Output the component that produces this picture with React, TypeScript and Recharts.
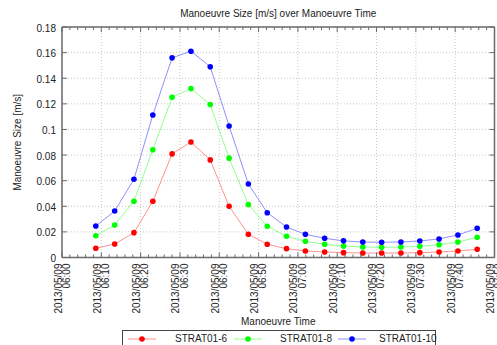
import React from 'react';
import { LineChart, Line, XAxis, YAxis, CartesianGrid, Legend } from 'recharts';

// sample times, minutes after 2013/05/09 06:00
const times = [8.6, 13.4, 18.3, 23.1, 28.0, 32.8, 37.7, 42.5, 47.4, 52.2, 57.1, 61.9, 66.8, 71.6, 76.5, 81.3, 86.2, 91.0, 95.9, 100.7, 105.6];

const strat6 = [0.0072, 0.0105, 0.0194, 0.0439, 0.0809, 0.0902, 0.0762, 0.0400, 0.0181, 0.0103, 0.0069, 0.0051, 0.0043, 0.0038, 0.0035, 0.0035, 0.0035, 0.0038, 0.0043, 0.0051, 0.0064];
const strat8 = [0.0170, 0.0254, 0.0439, 0.0842, 0.1251, 0.1319, 0.1194, 0.0776, 0.0413, 0.0244, 0.0166, 0.0127, 0.0103, 0.0089, 0.0082, 0.0080, 0.0082, 0.0087, 0.0100, 0.0121, 0.0158];
const strat10 = [0.0246, 0.0363, 0.0611, 0.1113, 0.1559, 0.1611, 0.1490, 0.1027, 0.0574, 0.0350, 0.0238, 0.0181, 0.0150, 0.0130, 0.0121, 0.0119, 0.0121, 0.0129, 0.0145, 0.0176, 0.0228];

const seriesNames = ['STRAT01-6', 'STRAT01-8', 'STRAT01-10'];
const seriesKeys = ['s6', 's8', 's10'];
const dotColors = ['#ff0000', '#00ff00', '#0000ff'];
const lineColors = ['#ff9090', '#90ff90', '#9090ff'];

const dateLabel = '2013/05/09';
const majorTicks = [0, 10, 20, 30, 40, 50, 60, 70, 80, 90, 100, 110];
const timeLabels = ['06:00', '06:10', '06:20', '06:30', '06:40', '06:50', '07:00', '07:10', '07:20', '07:30', '07:40', '07:50'];
const minorTicks = Array.from({ length: 56 }, (_, i) => i * 2);

const yTicks = [0, 0.02, 0.04, 0.06, 0.08, 0.1, 0.12, 0.14, 0.16, 0.18];
const yLabels = ['0', '0.02', '0.04', '0.06', '0.08', '0.1', '0.12', '0.14', '0.16', '0.18'];

const data = times.map((t, i) => ({ t, s6: strat6[i], s8: strat8[i], s10: strat10[i] }));

const FONT = '"Liberation Sans", Arial, sans-serif';
const INK = '#222';
const FRAME = '#6a6a6a';

const isMajor = (v: number) => v % 10 === 0;

const BottomTick = (props: any) => {
  const { x, y, payload } = props;
  const v = payload.value;
  const major = isMajor(v);
  return (
    <g>
      <line x1={x} y1={y} x2={x} y2={y - (major ? 5 : 3)} stroke={FRAME} />
      {major && (
        <text transform={`translate(${x}, ${y + 6}) rotate(-90)`} textAnchor="end" fontSize={10} fontFamily={FONT} fill={INK}>
          <tspan x={0} y={-0.5}>{dateLabel}</tspan>
          <tspan x={0} y={7.8}>{timeLabels[v / 10]}</tspan>
        </text>
      )}
    </g>
  );
};

const TopTick = (props: any) => {
  const { x, y, payload } = props;
  return <line x1={x} y1={y} x2={x} y2={y + (isMajor(payload.value) ? 5 : 3)} stroke={FRAME} />;
};

const LeftTick = (props: any) => {
  const { x, y, index } = props;
  return (
    <g>
      <line x1={x} y1={y} x2={x + 5} y2={y} stroke={FRAME} />
      <text x={x - 6} y={y + 4.5} textAnchor="end" fontSize={10} fontFamily={FONT} fill={INK}>{yLabels[index]}</text>
    </g>
  );
};

const RightTick = (props: any) => {
  const { x, y } = props;
  return <line x1={x} y1={y} x2={x - 5} y2={y} stroke={FRAME} />;
};

const gridX = ({ xAxis }: any) => {
  const s = xAxis.scale;
  return majorTicks.map((v) => (typeof s === 'function' ? s(v) : s.map(v)));
};

const legendLineX = [5, 111, 215];
const legendTextX = [52, 157, 256];

const LegendBox = () => (
  <div style={{ position: 'relative', width: 314, height: 19, border: '1px solid #444', boxSizing: 'border-box', background: '#fff', fontFamily: FONT, fontSize: 10, color: INK }}>
    {seriesNames.map((name, i) => (
      <React.Fragment key={name}>
        <svg style={{ position: 'absolute', left: legendLineX[i], top: 3 }} width={30} height={10}>
          <line x1={0} y1={5} x2={28} y2={5} stroke={lineColors[i]} />
          <circle cx={14} cy={5} r={2.8} fill={dotColors[i]} />
        </svg>
        <span style={{ position: 'absolute', left: legendTextX[i], top: 2, lineHeight: '12px', whiteSpace: 'nowrap' }}>{name}</span>
      </React.Fragment>
    ))}
  </div>
);

export default function App() {
  return (
    <div style={{ position: 'absolute', left: 0, top: 0, background: '#fff' }}>
      <LineChart width={497} height={345} data={data} margin={{ top: 26, right: 1.5, bottom: 86.5, left: 0 }}>
        <CartesianGrid xAxisId="main" yAxisId="left" stroke="#c8c8c8" strokeDasharray="1 2" verticalCoordinatesGenerator={gridX} />
        <XAxis
          xAxisId="main"
          type="number"
          dataKey="t"
          domain={[0, 110]}
          ticks={minorTicks}
          interval={0}
          height={1}
          tickSize={0}
          tickMargin={0}
          tick={<BottomTick />}
          stroke={FRAME}
          axisLine={{ stroke: FRAME, strokeWidth: 1.5 }}
          allowDataOverflow
          label={(p: any) => {
            const vb = p.viewBox;
            return (
              <text x={vb.x + vb.width / 2} y={vb.y + 67.5} textAnchor="middle" fontSize={10} fontFamily={FONT} fill={INK}>Manoeuvre Time</text>
            );
          }}
        />
        <XAxis
          xAxisId="top"
          orientation="top"
          type="number"
          dataKey="t"
          domain={[0, 110]}
          ticks={minorTicks}
          interval={0}
          height={1}
          tickSize={0}
          tickMargin={0}
          tick={<TopTick />}
          stroke={FRAME}
          axisLine={{ stroke: FRAME, strokeWidth: 1.5 }}
          allowDataOverflow
          label={(p: any) => {
            const vb = p.viewBox;
            return (
              <text x={vb.x + vb.width / 2} y={vb.y + vb.height - 10.5} textAnchor="middle" fontSize={10} fontFamily={FONT} fill={INK}>Manoeuvre Size [m/s] over Manoeuvre Time</text>
            );
          }}
        />
        <YAxis
          yAxisId="left"
          type="number"
          domain={[0, 0.18]}
          ticks={yTicks}
          interval={0}
          width={62}
          tickSize={0}
          tickMargin={0}
          tick={<LeftTick />}
          stroke={FRAME}
          axisLine={{ stroke: FRAME, strokeWidth: 1.5 }}
          allowDataOverflow
          label={(p: any) => {
            const vb = p.viewBox;
            const cx = vb.x + 20.5;
            const cy = vb.y + vb.height / 2;
            return (
              <text x={cx} y={cy} transform={`rotate(-90, ${cx}, ${cy})`} textAnchor="middle" fontSize={10} fontFamily={FONT} fill={INK}>Manoeuvre Size [m/s]</text>
            );
          }}
        />
        <YAxis
          yAxisId="right"
          orientation="right"
          type="number"
          domain={[0, 0.18]}
          ticks={yTicks}
          interval={0}
          width={1}
          tickSize={0}
          tickMargin={0}
          tick={<RightTick />}
          stroke={FRAME}
          axisLine={{ stroke: FRAME, strokeWidth: 1.5 }}
          allowDataOverflow
        />
        {seriesKeys.map((k, i) => (
          <Line
            key={k}
            xAxisId="main"
            yAxisId="left"
            type="linear"
            dataKey={k}
            name={seriesNames[i]}
            stroke={lineColors[i]}
            strokeWidth={1}
            dot={{ r: 2.8, fill: dotColors[i], stroke: dotColors[i], strokeWidth: 0 }}
            activeDot={false}
            isAnimationActive={false}
          />
        ))}
        <Legend
          layout="horizontal"
          verticalAlign="middle"
          align="center"
          wrapperStyle={{ left: 122, top: 330, width: 314, height: 19 }}
          content={() => <LegendBox />}
        />
      </LineChart>
    </div>
  );
}
